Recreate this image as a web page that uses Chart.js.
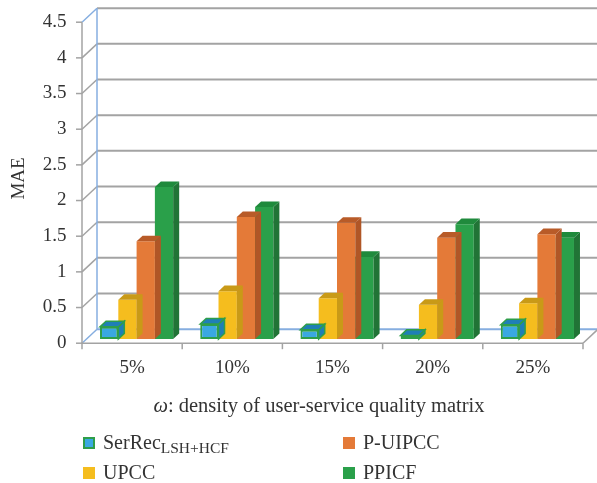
<!DOCTYPE html>
<html>
<head>
<meta charset="utf-8">
<script src="https://cdn.jsdelivr.net/npm/chart.js@4/dist/chart.umd.min.js"></script>
<style>
  html, body { margin: 0; padding: 0; background: #fff; }
  #wrap { position: relative; width: 597px; height: 483px; font-family: "Liberation Serif", "DejaVu Serif", serif; color: #333; }
  #chart { position: absolute; left: 0; top: 0; }
  .xtitle { position: absolute; left: 0; width: 638px; top: 395px; text-align: center; font-size: 20.5px; line-height: 20px; }
  .legend-item { position: absolute; font-size: 20px; line-height: 20px; white-space: nowrap; }
  .legend-item .sw { position: absolute; left: 0; top: 5px; width: 12px; height: 12px; box-sizing: border-box; }
  .legend-item span.txt { position: absolute; left: 20px; top: 0; }
  .legend-item sub { font-size: 15.5px; vertical-align: -4px; line-height: 0; }
</style>
</head>
<body>
<div id="wrap">
  <canvas id="chart" width="597" height="483"></canvas>
  <div class="xtitle"><i>ω</i>: density of user-service quality matrix</div>
  <div class="legend-item" style="left:83px; top:432px;"><div class="sw" style="background:#3aa8e2; border:2px solid #2f9e4a;"></div><span class="txt">SerRec<sub>LSH+HCF</sub></span></div>
  <div class="legend-item" style="left:83px; top:462px;"><div class="sw" style="background:#f5bd1e;"></div><span class="txt">UPCC</span></div>
  <div class="legend-item" style="left:343px; top:432px;"><div class="sw" style="background:#e47a38;"></div><span class="txt">P-UIPCC</span></div>
  <div class="legend-item" style="left:343px; top:462px;"><div class="sw" style="background:#2aa04a;"></div><span class="txt">PPICF</span></div>
</div>
<script>
// density levels on the x axis
const categories = ['5%', '10%', '15%', '20%', '25%'];

// MAE per method
const serRecValues = [0.17, 0.21, 0.13, 0.05, 0.20];
const upccValues   = [0.55, 0.67, 0.57, 0.48, 0.50];
const pUipccValues = [1.37, 1.71, 1.63, 1.42, 1.47];
const ppicfValues  = [2.13, 1.85, 1.15, 1.61, 1.42];

const yMax = 4.5;
const yStep = 0.5;

// depth of the box (front plane -> back wall) in pixels
const DEPTH = { x: 15, y: -14 };
const BAR_FRONT = 0.3;   // bars start this far into the box
const BAR_DEPTH = 0.4;   // and are this deep

const GRID = '#a3a3a3';
const FRAME_BLUE = '#86aee0';

function line(ctx, x1, y1, x2, y2, color, width) {
    ctx.beginPath();
    ctx.moveTo(x1, y1);
    ctx.lineTo(x2, y2);
    ctx.strokeStyle = color;
    ctx.lineWidth = width || 1.5;
    ctx.stroke();
}

function poly(ctx, pts, fill, stroke) {
    ctx.beginPath();
    ctx.moveTo(pts[0][0], pts[0][1]);
    for (let i = 1; i < pts.length; i++) ctx.lineTo(pts[i][0], pts[i][1]);
    ctx.closePath();
    ctx.fillStyle = fill;
    ctx.fill();
    if (stroke) {
        ctx.strokeStyle = stroke;
        ctx.lineWidth = 1.5;
        ctx.stroke();
    }
}

// walls, floor and the front axis of the 3d box
const box3d = {
    id: 'box3d',
    beforeDatasetsDraw(chart) {
        const { ctx, chartArea: a, scales: { y } } = chart;
        const fx = -BAR_FRONT * DEPTH.x, fy = -BAR_FRONT * DEPTH.y;
        const bx = (1 - BAR_FRONT) * DEPTH.x, by = (1 - BAR_FRONT) * DEPTH.y;
        const y0 = y.getPixelForValue(0);
        const yTop = y.getPixelForValue(yMax);
        ctx.save();

        for (let v = 0; v <= yMax + 1e-9; v += yStep) {
            const yy = y.getPixelForValue(v);
            const edge = v === 0 || Math.abs(v - yMax) < 1e-9;
            line(ctx, a.left + bx, yy + by, a.right + bx + 5, yy + by, v === 0 ? FRAME_BLUE : GRID, 2);
            line(ctx, a.left + fx, yy + fy, a.left + bx, yy + by, edge ? FRAME_BLUE : GRID, 1.5);
            line(ctx, a.left + fx - 6, yy + fy, a.left + fx, yy + fy, GRID, 1.5);
        }
        // back wall edge and front axis
        line(ctx, a.left + bx, y0 + by, a.left + bx, yTop + by, FRAME_BLUE, 1.5);
        line(ctx, a.left + fx, y0 + fy, a.left + fx, yTop + fy, GRID, 1.5);

        // floor front edge, right edge and category ticks
        line(ctx, a.left + fx, y0 + fy, a.right + fx, y0 + fy, GRID, 1.5);
        line(ctx, a.right + fx, y0 + fy, a.right + bx, y0 + by, GRID, 1.5);
        const n = categories.length;
        for (let i = 0; i <= n; i++) {
            const xx = a.left + i * (a.right - a.left) / n + fx;
            line(ctx, xx, y0 + fy, xx, y0 + fy + 6, GRID, 1.5);
        }
        ctx.restore();
    },
    // side and top faces after each dataset's fronts
    afterDatasetDraw(chart, args) {
        const { ctx } = chart;
        const ds = chart.data.datasets[args.index];
        const dx = BAR_DEPTH * DEPTH.x, dy = BAR_DEPTH * DEPTH.y;
        ctx.save();
        args.meta.data.forEach(bar => {
            const { x, y, base, width } = bar.getProps(['x', 'y', 'base', 'width'], true);
            const x0 = x - width / 2, x1 = x + width / 2;
            poly(ctx, [[x1, y], [x1 + dx, y + dy], [x1 + dx, base + dy], [x1, base]], ds.sideColor, ds.edgeColor);
            poly(ctx, [[x0, y], [x1, y], [x1 + dx, y + dy], [x0 + dx, y + dy]], ds.topColor, ds.edgeColor);
        });
        ctx.restore();
    }
};

const font = { family: '"Liberation Serif", "DejaVu Serif", serif', size: 19 };

new Chart(document.getElementById('chart'), {
    type: 'bar',
    data: {
        labels: categories,
        datasets: [
            {
                label: 'SerRec LSH+HCF', data: serRecValues,
                backgroundColor: '#3aa8e2', borderColor: '#2f9e4a', borderWidth: 2, borderSkipped: false,
                topColor: '#1f7fb6', sideColor: '#1f7fb6', edgeColor: '#2f9e4a'
            },
            {
                label: 'UPCC', data: upccValues, backgroundColor: '#f5bd1e',
                topColor: '#c99a17', sideColor: '#c99a17'
            },
            {
                label: 'P-UIPCC', data: pUipccValues, backgroundColor: '#e47a38',
                topColor: '#b85b28', sideColor: '#b05626'
            },
            {
                label: 'PPICF', data: ppicfValues, backgroundColor: '#2aa04a',
                topColor: '#1f8a3c', sideColor: '#217436'
            }
        ]
    },
    options: {
        responsive: false,
        animation: false,
        layout: { padding: { top: 18, right: 9.5, left: 0, bottom: 0 } },
        categoryPercentage: 0.73,
        barPercentage: 1,
        plugins: {
            legend: { display: false },
            tooltip: { enabled: false }
        },
        scales: {
            x: {
                grid: { display: false, drawTicks: false },
                border: { display: false },
                ticks: { font, color: '#333', padding: 18, labelOffset: -4.5, maxRotation: 0 },
                afterFit(scale) { scale.height = 144; }
            },
            y: {
                min: 0,
                max: yMax,
                grid: { display: false, drawTicks: false },
                border: { display: false },
                ticks: {
                    stepSize: yStep, font, color: '#333', padding: 20, labelOffset: 4,
                    callback: v => String(+v.toFixed(1))
                },
                title: { display: true, text: 'MAE', font, color: '#333', padding: { top: 8, bottom: 0 } },
                afterFit(scale) {
                    scale.width = 86.5;
                    scale.paddingTop = 0;
                    scale.paddingBottom = 0;
                }
            }
        }
    },
    plugins: [box3d]
});
</script>
</body>
</html>
